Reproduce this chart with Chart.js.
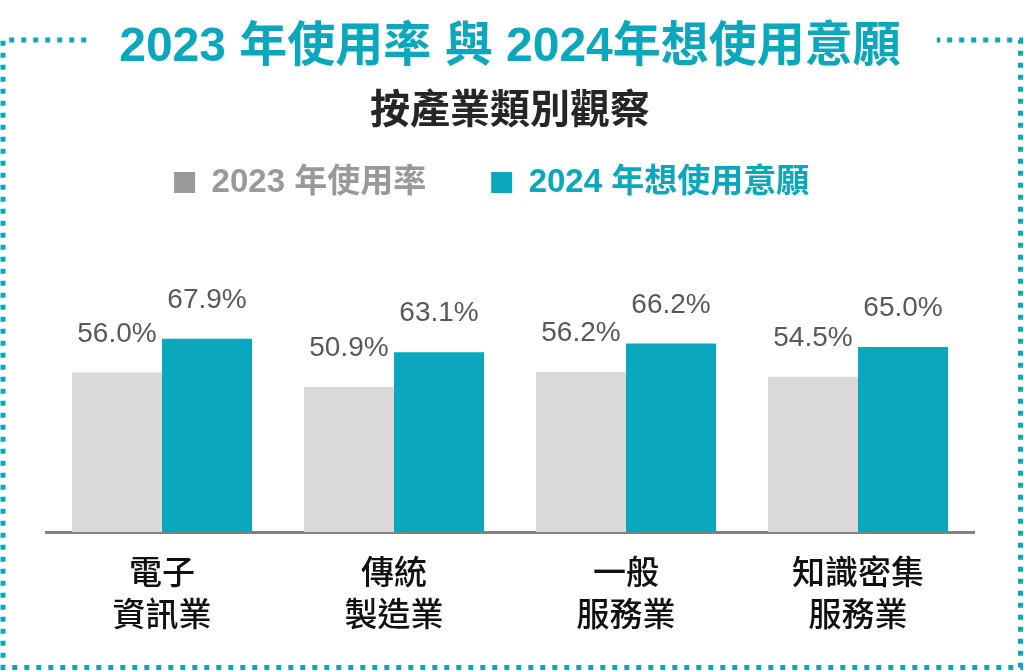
<!DOCTYPE html>
<html>
<head>
<meta charset="utf-8">
<script src="https://cdn.jsdelivr.net/npm/chart.js@4/dist/chart.umd.min.js"></script>
<style>
    body { margin: 0; background: #ffffff; }
    canvas { display: block; }
</style>
</head>
<body>
<canvas id="usage_chart" width="1024" height="671"></canvas>
<script>
var categories = [["電子", "資訊業"], ["傳統", "製造業"], ["一般", "服務業"], ["知識密集", "服務業"]];
var usage2023 = [56.0, 50.9, 56.2, 54.5];
var intent2024 = [67.9, 63.1, 66.2, 65.0];
var seriesNames = ["2023 年使用率", "2024 年想使用意願"];

var teal = "#0ba7bc";
var barGray = "#d9d9d9";
var legendGray = "#999999";
var fontLatin = "'Liberation Sans', 'Noto Sans CJK TC', sans-serif";

var canvas = document.getElementById('usage_chart').getContext('2d');

// dotted frame, with a gap where the title sits
var framePlugin = {
    id: 'frame',
    beforeDraw: function (chart) {
        var ctx = chart.ctx;
        var title = chart.options.plugins.title;
        ctx.save();
        ctx.font = "bold " + title.font.size + "px " + fontLatin;
        var w = ctx.measureText(title.text).width;
        var mid = (chart.chartArea.left + chart.chartArea.right) / 2;
        var gapL = mid - w / 2 - 33;
        var gapR = mid + w / 2 + 36;
        ctx.strokeStyle = teal;
        ctx.lineWidth = 5;
        ctx.setLineDash([5, 7]);
        ctx.beginPath();
        ctx.moveTo(gapL, 40);
        ctx.lineTo(3, 40);
        ctx.lineTo(3, 667.5);
        ctx.lineTo(1020.5, 667.5);
        ctx.lineTo(1020.5, 40);
        ctx.lineTo(gapR, 40);
        ctx.stroke();
        ctx.restore();
    }
};

// value labels above each bar
var valuePlugin = {
    id: 'values',
    afterDatasetsDraw: function (chart) {
        var ctx = chart.ctx;
        ctx.save();
        ctx.font = "28px " + fontLatin;
        ctx.fillStyle = "#595959";
        ctx.textAlign = "center";
        ctx.textBaseline = "alphabetic";
        chart.data.datasets.forEach(function (ds, i) {
            var meta = chart.getDatasetMeta(i);
            meta.data.forEach(function (bar, j) {
                ctx.fillText(ds.data[j].toFixed(1) + "%", bar.x, bar.y - 31);
            });
        });
        ctx.restore();
    }
};

var chartData = {
    labels: categories,
    datasets: [{
        label: seriesNames[0],
        data: usage2023,
        backgroundColor: barGray,
        categoryPercentage: 0.776,
        barPercentage: 1
    }, {
        label: seriesNames[1],
        data: intent2024,
        backgroundColor: teal,
        categoryPercentage: 0.776,
        barPercentage: 1
    }]
};

var legendBoxColors = [legendGray, teal];

var chartOptions = {
    responsive: false,
    devicePixelRatio: 1,
    animation: false,
    layout: {
        padding: { left: 46, right: 50, top: 0, bottom: 11 }
    },
    plugins: {
        title: {
            display: true,
            text: "2023 年使用率 與 2024年想使用意願",
            color: teal,
            font: { family: fontLatin, size: 48, weight: 'bold', lineHeight: 1 },
            padding: { top: 24, bottom: 0 }
        },
        subtitle: {
            display: true,
            text: "按產業類別觀察",
            color: "#262626",
            font: { family: fontLatin, size: 40, weight: 'bold', lineHeight: 1 },
            padding: { top: 20, bottom: -31 }
        },
        legend: {
            display: true,
            labels: {
                boxWidth: 21,
                boxHeight: 21,
                padding: 65,
                font: { family: fontLatin, size: 33, weight: 'bold' },
                generateLabels: function (chart) {
                    return chart.data.datasets.map(function (ds, i) {
                        return {
                            text: i == 1 ? ds.label + "    " : ds.label,
                            fillStyle: legendBoxColors[i],
                            strokeStyle: legendBoxColors[i],
                            lineWidth: 0,
                            fontColor: legendBoxColors[i],
                            hidden: false,
                            datasetIndex: i
                        };
                    });
                }
            }
        },
        tooltip: { enabled: false }
    },
    scales: {
        x: {
            grid: { display: false, drawTicks: false },
            border: { display: true, color: "#808080", width: 3 },
            ticks: {
                color: "#111111",
                padding: 22,
                autoSkip: false,
                maxRotation: 0,
                font: { family: fontLatin, size: 33, weight: '500', lineHeight: 1.27 }
            }
        },
        y: {
            display: false,
            min: 0,
            max: 113.4
        }
    }
};

var chart = new Chart(canvas, {
    type: 'bar',
    data: chartData,
    options: chartOptions,
    plugins: [framePlugin, valuePlugin]
});
</script>
</body>
</html>
